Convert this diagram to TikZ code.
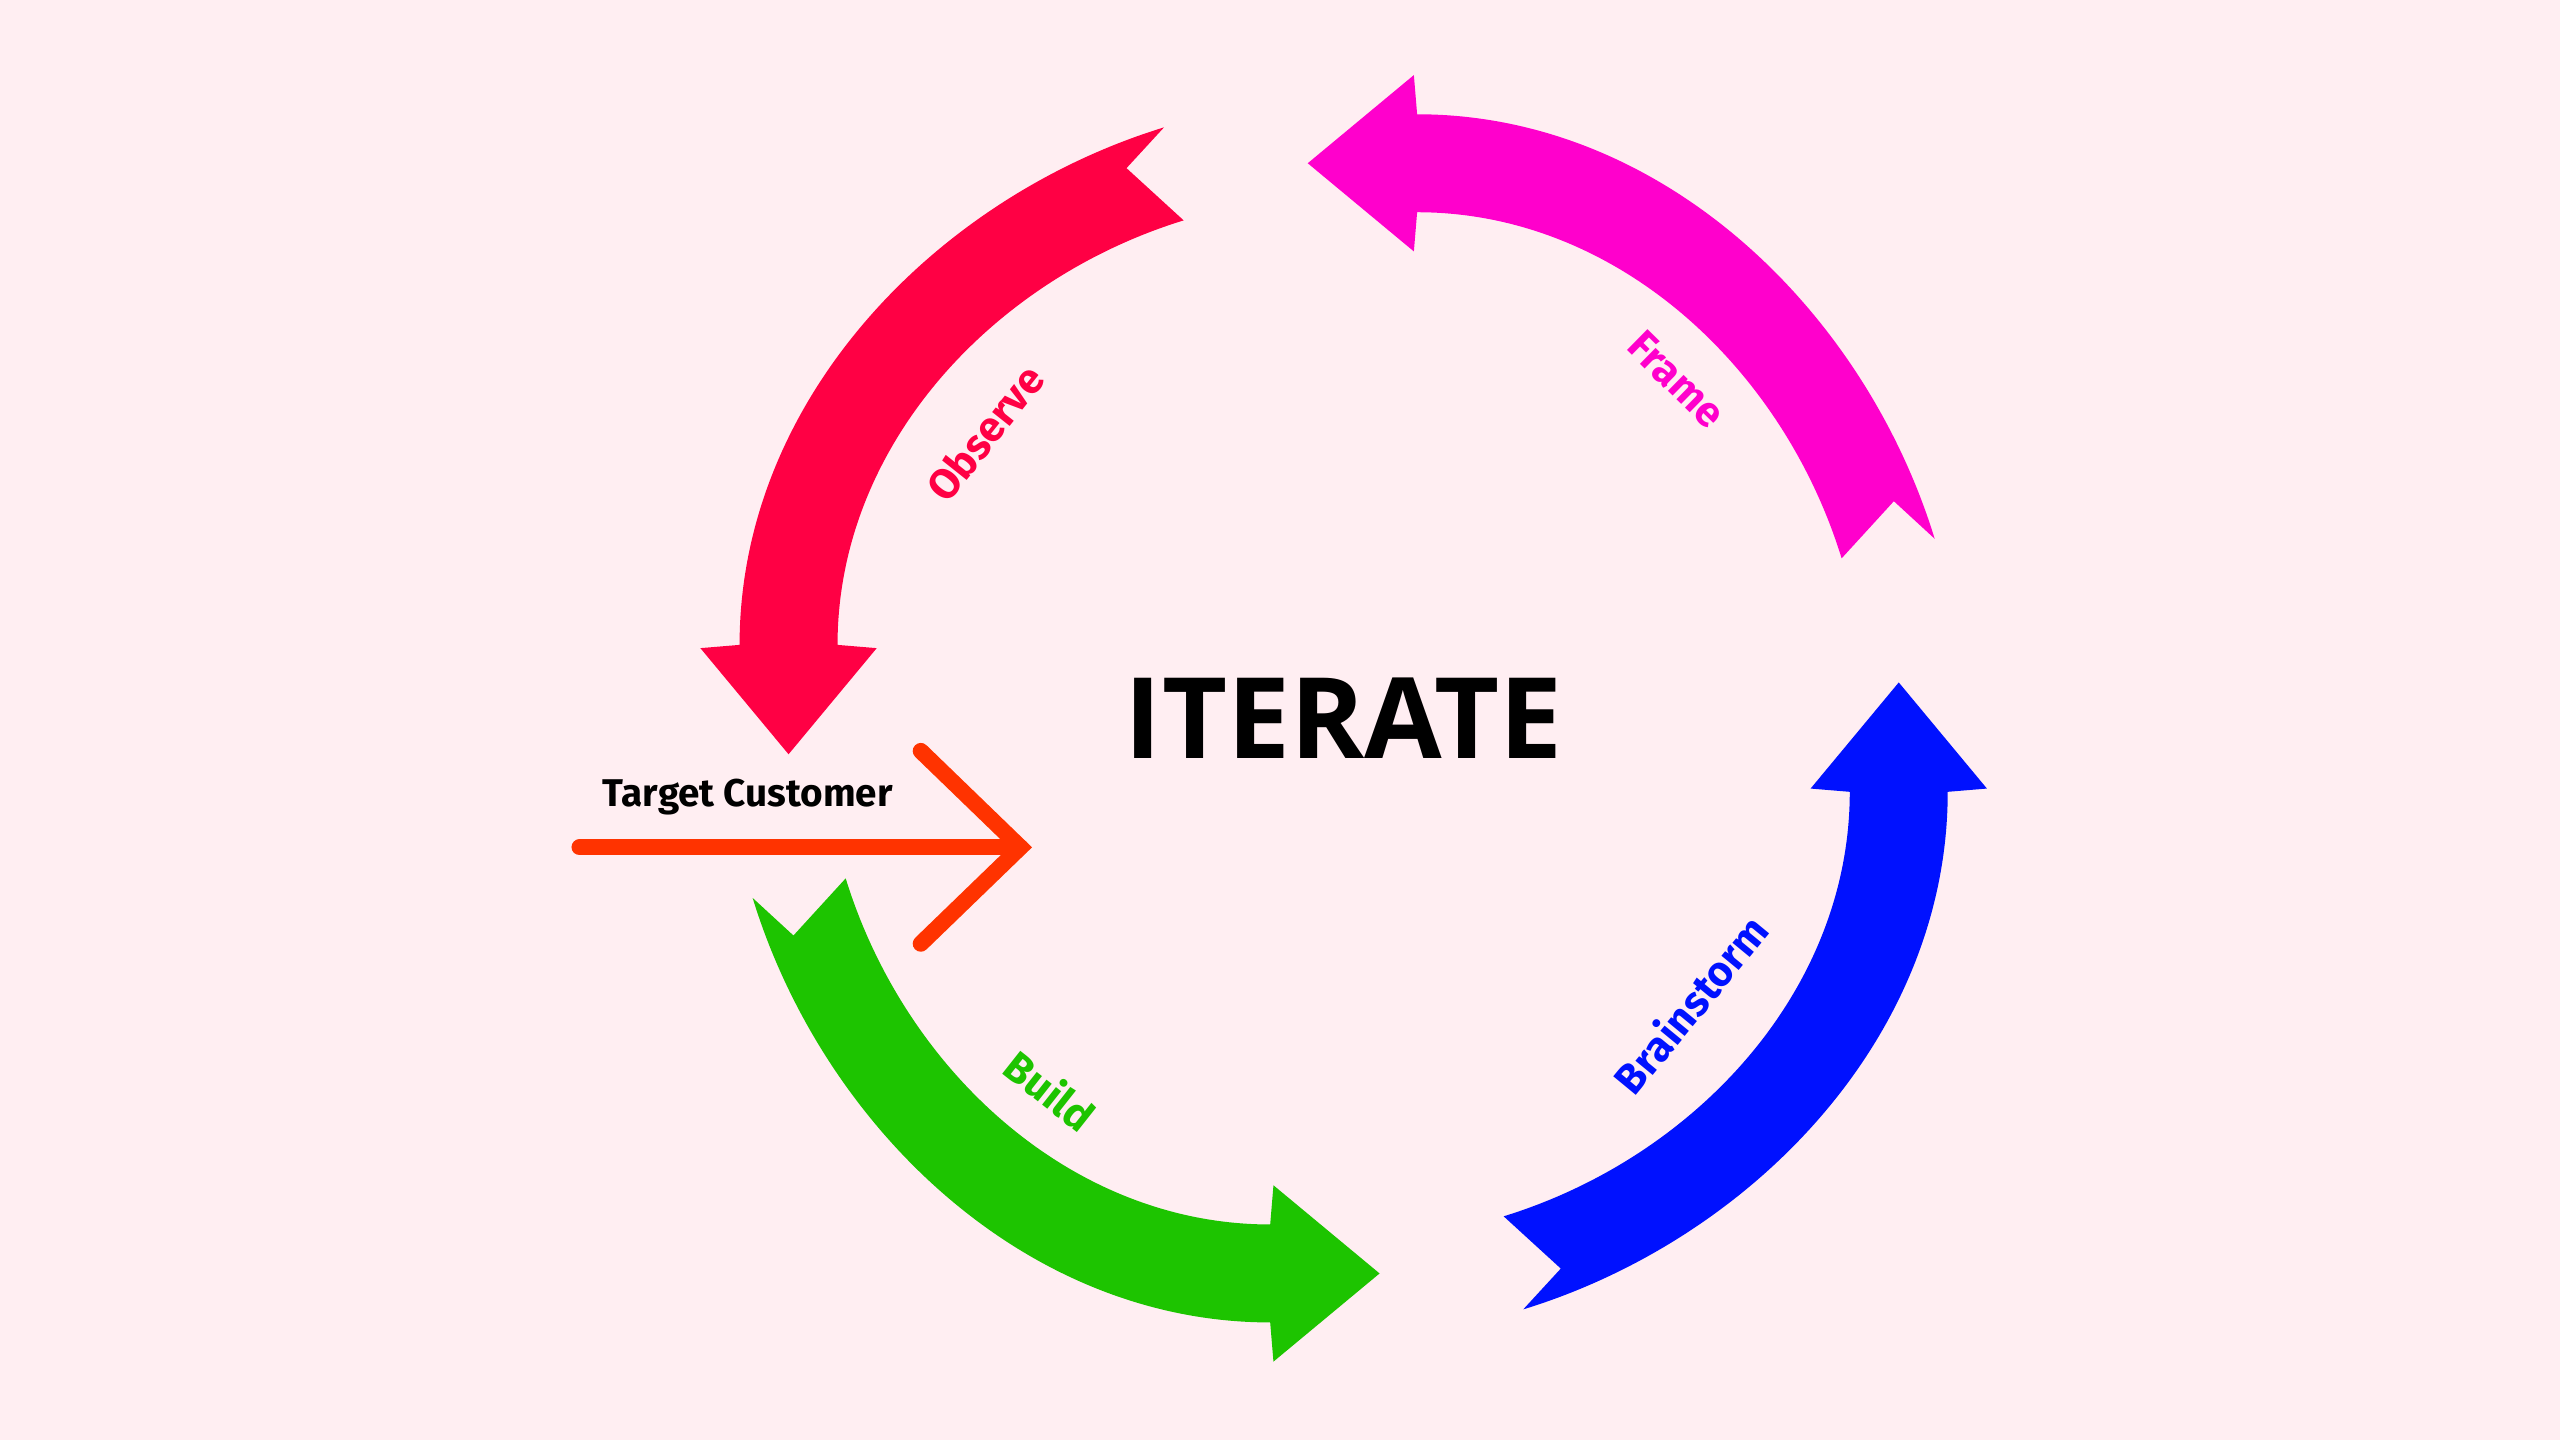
\documentclass[tikz,border=0pt]{standalone}
\usepackage{fontspec}
\setmainfont{Fira Sans}
\newfontfamily\itfont{Open Sans}
\definecolor{bg}{HTML}{FFEEF2}
\definecolor{cobs}{HTML}{FF0044}
\definecolor{cfra}{HTML}{FF00CC}
\definecolor{cbra}{HTML}{0011FF}
\definecolor{cbui}{HTML}{1DC400}
\definecolor{ctar}{HTML}{FF3300}
\begin{document}
\begin{tikzpicture}[x=0.016327cm,y=0.016327cm,
  lab/.style={font=\fontsize{12}{14}\selectfont\bfseries}]
\fill[bg] (-823,-442) rectangle (745,440);
\useasboundingbox (-823,-442) rectangle (745,440);
\newcommand{\cyc}[2]{%
 \fill[#2,rotate=#1] (-110,362) .. controls (-250,319) and (-370,195) .. (-370,45)
   -- (-394,43) -- (-340,-22) -- (-286,43) -- (-310,45)
   .. controls (-310,167) and (-215,269) .. (-98,305) -- (-133,337) -- cycle;}
\cyc{0}{cobs}
\cyc{-90}{cfra}
\cyc{180}{cbra}
\cyc{90}{cbui}
\node[lab,text=cobs,rotate=51.5] (obs) at (141.5:281) {Observe};
\node[lab,text=cfra,rotate=-44.5] (fra) at (45.5:291) {Frame};
\node[lab,text=cbra,rotate=50.5] (bra) at (-39.5:275) {Brainstorm};
\node[lab,text=cbui,rotate=-38.3] (bui) at (231.7:290) {Build};
\node[font=\itfont\fontsize{32}{36}\selectfont\bfseries] (it) at (0,0) {ITERATE};
\node[font=\fontsize{11}{13}\selectfont\bfseries] (tc) at (-365,-48) {Target Customer};
\coordinate (a0) at (-468,-79);
\coordinate (a1) at (-198,-79);
\coordinate (h1) at (-259,-20);
\coordinate (h2) at (-259,-138);
\draw[ctar,line width=4.6pt,line cap=round] (a0) -- (a1);
\draw[ctar,line width=4.6pt,line cap=round] (h1) -- (a1) -- (h2);
\end{tikzpicture}
\end{document}
